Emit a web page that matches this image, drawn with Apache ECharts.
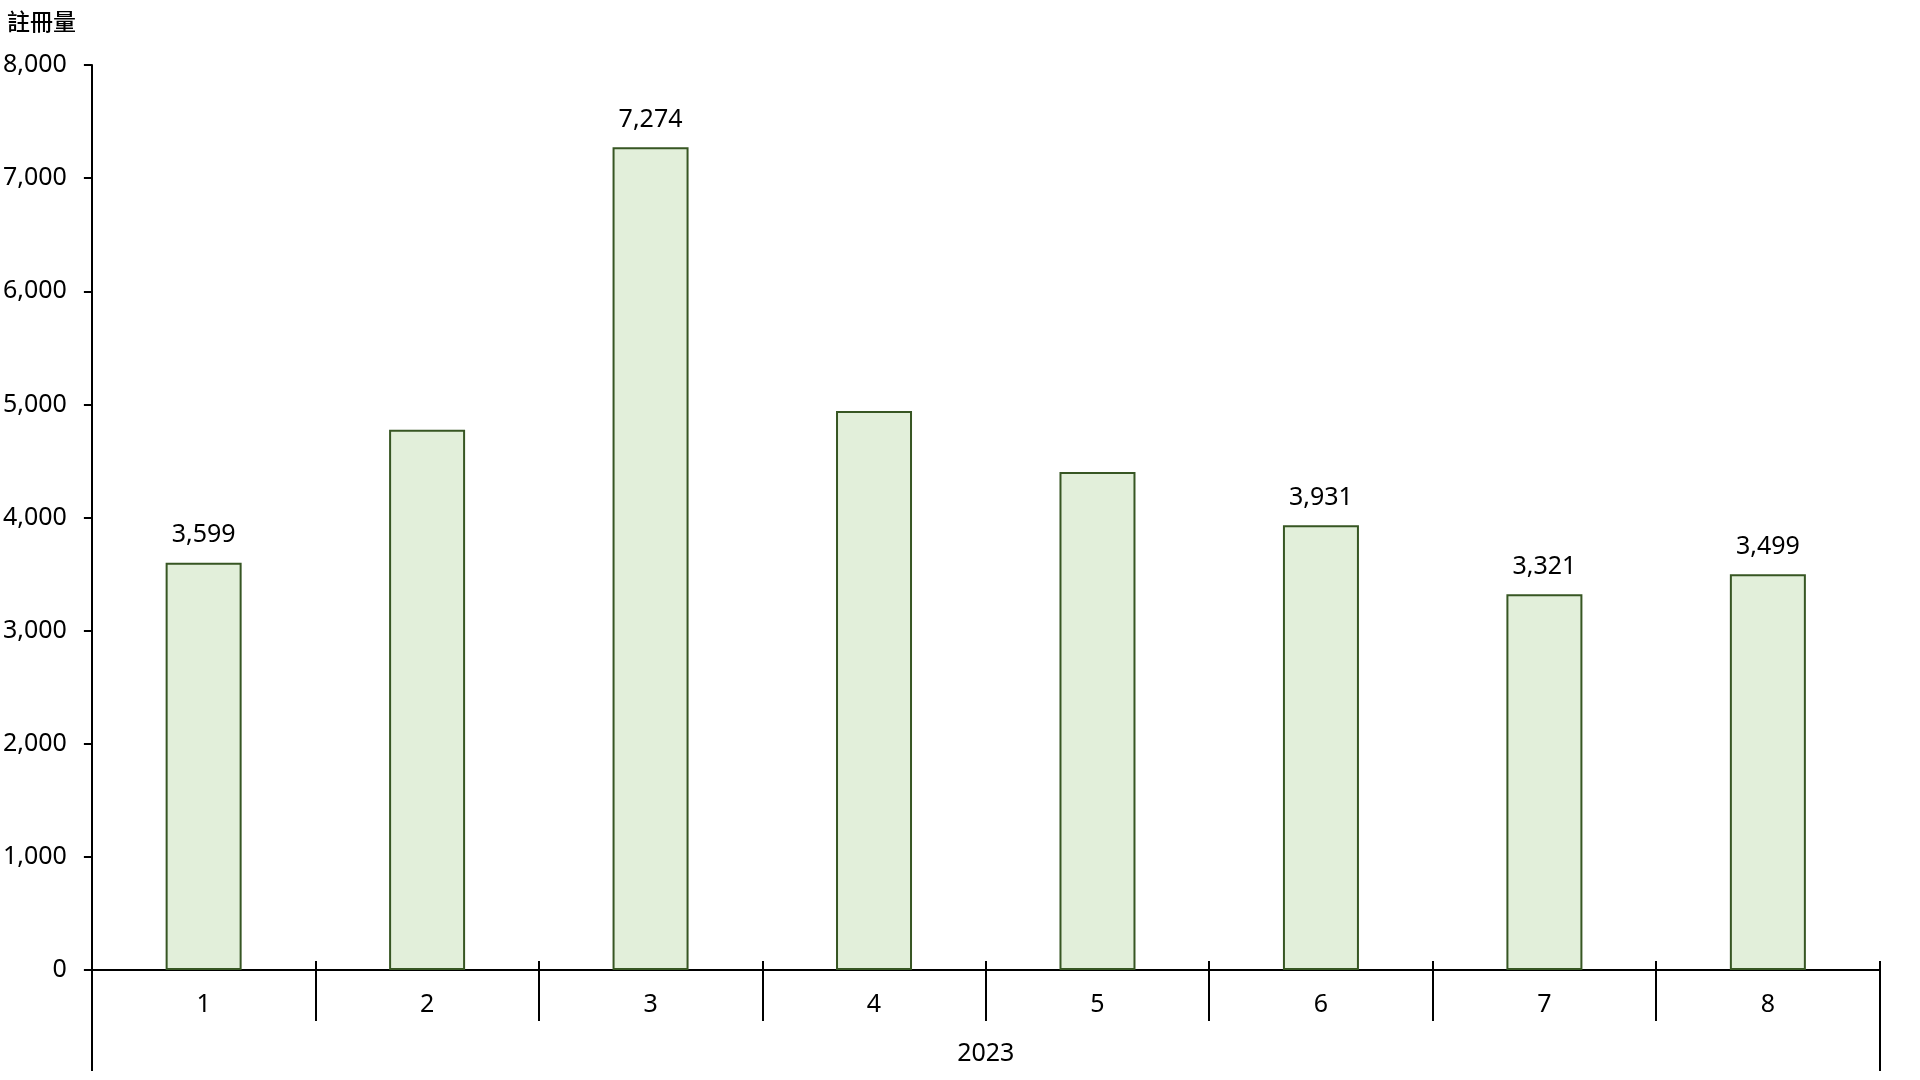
<!DOCTYPE html>
<html>
<head>
<meta charset="utf-8">
<script src="https://cdn.jsdelivr.net/npm/echarts@6/dist/echarts.min.js"></script>
<style>
html,body{margin:0;padding:0;background:#fff;}
#chart{width:1920px;height:1080px;}
</style>
</head>
<body>
<div id="chart"></div>
<script>
const months = ['1', '2', '3', '4', '5', '6', '7', '8'];
const yearLabels = ['2023'];
const values = [3599, 4776, 7274, 4941, 4403, 3931, 3321, 3499];
const showLabel = [true, false, true, false, false, true, true, true];
const yTitle = '註冊量';

const FONT = '"Noto Sans", "Noto Sans CJK TC", sans-serif';
const fmt = v => Number(v).toLocaleString('en-US');

const chart = echarts.init(document.getElementById('chart'), null, {renderer: 'canvas'});
chart.setOption({
  backgroundColor: '#ffffff',
  animation: false,
  graphic: [{
    type: 'text', left: 7, top: 10,
    style: {text: yTitle, font: '500 23px "Noto Sans CJK TC", sans-serif', fill: '#000'}
  }],
  grid: {left: 90.6, right: 40.4, top: 65, bottom: 110, containLabel: false},
  xAxis: [
    {
      type: 'category', data: months, position: 'bottom',
      axisLine: {show: true, lineStyle: {color: '#000', width: 2}},
      axisTick: {show: true, inside: false, length: 51, lineStyle: {color: '#000', width: 2}},
      axisLabel: {margin: 22, fontSize: 25, color: '#000', fontFamily: FONT}
    },
    {
      type: 'category', data: months, position: 'bottom',
      axisLine: {show: false},
      axisTick: {show: true, inside: true, length: 9, lineStyle: {color: '#000', width: 2}},
      axisLabel: {show: false}
    },
    {
      type: 'category', data: yearLabels, position: 'bottom',
      axisLine: {show: false},
      axisTick: {show: true, inside: false, length: 101, lineStyle: {color: '#000', width: 2}},
      axisLabel: {margin: 71, fontSize: 25, color: '#000', fontFamily: FONT}
    }
  ],
  yAxis: {
    type: 'value', min: 0, max: 8000, interval: 1000,
    axisLine: {show: true, lineStyle: {color: '#000', width: 2}},
    axisTick: {show: true, inside: false, length: 8, lineStyle: {color: '#000', width: 2}},
    axisLabel: {margin: 25, fontSize: 25, color: '#000', fontFamily: FONT, formatter: fmt},
    splitLine: {show: false}
  },
  series: [{
    type: 'bar', xAxisIndex: 0, barWidth: 76,
    itemStyle: {color: '#E2EFDA', borderColor: '#375623', borderWidth: 2},
    label: {position: 'top', distance: 15, fontSize: 25, color: '#000', fontFamily: FONT,
            formatter: p => fmt(p.value)},
    data: values.map((v, i) => ({value: v, label: {show: showLabel[i]}}))
  }]
});
</script>
</body>
</html>
